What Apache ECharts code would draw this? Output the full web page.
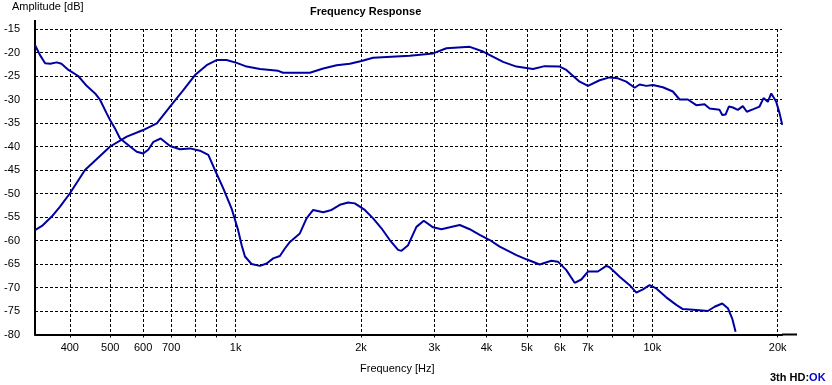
<!DOCTYPE html>
<html>
<head>
<meta charset="utf-8">
<script src="https://cdn.jsdelivr.net/npm/echarts@6/dist/echarts.min.js"></script>
<style>
html,body{margin:0;padding:0;background:#fff;}
#chart{width:832px;height:385px;}
</style>
</head>
<body>
<div id="chart"></div>
<script>
// Curve 1 (fundamental response)
var freqA = [330,343,362,379,400,435,500,548,600,647,696,749,799,852,900,951,1006,1063,1144,1265,1300,1507,1623,1747,1880,2005,2138,2618,2978,3206,3646,3925,4383,4720,5172,5516,5994,6220,6694,7009,7475,7899,8270,8661,9071,9322,9674,10033,10602,11205,11630,12171,12753,13350,13724,14503,14722,14992,15268,15610,16046,16494,16863,17430,18088,18493,18937,19297,19467,19838,20203,20508];
var dbA   = [-57.8,-56.9,-54.9,-52.8,-50.0,-45.0,-40.0,-37.9,-36.5,-35.1,-31.5,-28.0,-24.8,-22.7,-21.6,-21.6,-22.2,-23.0,-23.5,-23.9,-24.3,-24.3,-23.4,-22.7,-22.4,-21.8,-21.1,-20.7,-20.2,-19.1,-18.8,-19.8,-22.0,-23.0,-23.5,-22.9,-23.0,-23.7,-26.2,-27.1,-25.9,-25.3,-25.5,-26.2,-27.5,-26.8,-27.1,-26.9,-27.4,-28.3,-30.0,-30.0,-31.2,-31.0,-31.9,-32.2,-33.3,-33.2,-31.5,-31.7,-32.2,-31.4,-32.6,-32.1,-31.5,-29.7,-30.5,-28.7,-28.3,-30.5,-32.9,-35.4];
// Curve 2 (3rd harmonic distortion)
var freqB = [330,339,349,359,372,382,397,419,439,460,473,490,500,513,528,558,579,600,617,635,661,696,735,777,821,860,892,934,978,1014,1034,1053,1092,1144,1187,1231,1277,1313,1350,1426,1480,1535,1623,1699,1779,1862,1932,2042,2138,2239,2344,2454,2501,2594,2716,2829,2978,3119,3266,3451,3646,3853,4072,4304,4720,4987,5366,5726,5938,6220,6512,6756,7009,7404,7756,7899,8350,8824,9155,9496,9851,10223,10803,11418,11841,12753,13596,14108,14722,15184,15556,15846];
var dbB   = [-18.4,-20.5,-22.3,-22.4,-22.1,-22.4,-23.7,-25.0,-27.1,-28.7,-30.1,-32.9,-34.4,-36.1,-38.3,-40.0,-41.1,-41.5,-40.7,-39.0,-38.3,-39.9,-40.6,-40.4,-40.9,-41.8,-45.0,-48.9,-53.2,-57.8,-61.0,-63.4,-65.0,-65.4,-64.9,-63.8,-63.3,-61.7,-60.3,-58.5,-55.3,-53.5,-54.0,-53.5,-52.4,-51.9,-52.1,-53.5,-55.3,-57.4,-59.9,-62.0,-62.2,-61.0,-57.1,-55.8,-57.2,-57.6,-57.2,-56.7,-57.6,-58.8,-59.9,-61.3,-63.1,-64.0,-65.1,-64.3,-64.5,-66.3,-69.0,-68.3,-66.6,-66.6,-65.4,-65.7,-67.7,-69.5,-71.1,-70.4,-69.5,-70.2,-72.1,-73.7,-74.6,-74.8,-75.0,-74.1,-73.4,-74.4,-76.6,-79.4];
// Axis ticks
var gridFreqs  = [400,500,600,700,800,900,1000,2000,3000,4000,5000,6000,7000,8000,9000,10000,20000];
var labelFreqs = [400,500,600,700,1000,2000,3000,4000,5000,6000,7000,10000,20000];
var freqMin = 330, freqMax = 20480;
var dbMin = -80, dbMax = -15, dbStep = 5;

function lg(f){ return Math.log10(f); }
function pairs(fs, ds){ return fs.map(function(f,i){ return [lg(f), ds[i]]; }); }
function fmtFreq(v){
  var f = Math.round(Math.pow(10, v));
  return f >= 1000 ? (Math.round(f/100)/10) + 'k' : String(f);
}

var FONT = 'Liberation Sans';
var chart = echarts.init(document.getElementById('chart'), null, {renderer:'canvas'});
var lineColor = '#0000a0';
chart.setOption({
  animation: false,
  backgroundColor: '#ffffff',
  title: [
    {text:'Frequency Response', left:305, top:1, textStyle:{fontFamily:FONT,fontSize:11,fontWeight:'bold',color:'#000'}},
    {text:'Amplitude [dB]', left:7, top:-4, textStyle:{fontFamily:FONT,fontSize:11,fontWeight:'normal',color:'#000'}},
    {text:'Frequency [Hz]', left:355, top:358, textStyle:{fontFamily:FONT,fontSize:11,fontWeight:'normal',color:'#000'}},
    {text:'{a|3th HD:}{b|OK}', left:765, top:367, textStyle:{fontFamily:FONT,fontSize:11,fontWeight:'bold',
      rich:{a:{fontFamily:FONT,fontSize:11,fontWeight:'bold',color:'#000'},b:{fontFamily:FONT,fontSize:11,fontWeight:'bold',color:'#0000cc'}}}}
  ],
  grid: {left:35, right:50, top:29, bottom:50.5, containLabel:false},
  xAxis: {
    type:'value', min:lg(freqMin), max:lg(freqMax),
    axisLine:{show:true, onZero:false, lineStyle:{color:'#000', width:2}},
    axisTick:{show:true, length:5, customValues:gridFreqs.map(lg), lineStyle:{color:'#000', width:1, type:[3,2]}},
    axisLabel:{show:true, customValues:labelFreqs.map(lg), formatter:fmtFreq, margin:8,
      fontFamily:FONT, fontSize:11, color:'#000'},
    splitLine:{show:true, lineStyle:{color:'#000', width:1, type:[3,2]}}
  },
  yAxis: {
    type:'value', min:dbMin, max:dbMax, interval:dbStep,
    axisLine:{show:true, onZero:false, lineStyle:{color:'#000', width:2}},
    axisTick:{show:false},
    axisLabel:{margin:15, fontFamily:FONT, fontSize:11, color:'#000'},
    splitLine:{show:true, lineStyle:{color:'#000', width:1, type:[3,2]}}
  },
  graphic: [
    {type:'line', shape:{x1:35, y1:20, x2:35, y2:29}, style:{stroke:'#000', lineWidth:2}, silent:true},
    {type:'line', shape:{x1:782, y1:334.5, x2:797, y2:334.5}, style:{stroke:'#000', lineWidth:2}, silent:true}
  ],
  series: [
    {type:'line', data:pairs(freqA, dbA), showSymbol:false, symbol:'none', lineStyle:{color:lineColor, width:2}, z:3},
    {type:'line', data:pairs(freqB, dbB), showSymbol:false, symbol:'none', lineStyle:{color:lineColor, width:2}, z:3}
  ]
});
</script>
</body>
</html>
